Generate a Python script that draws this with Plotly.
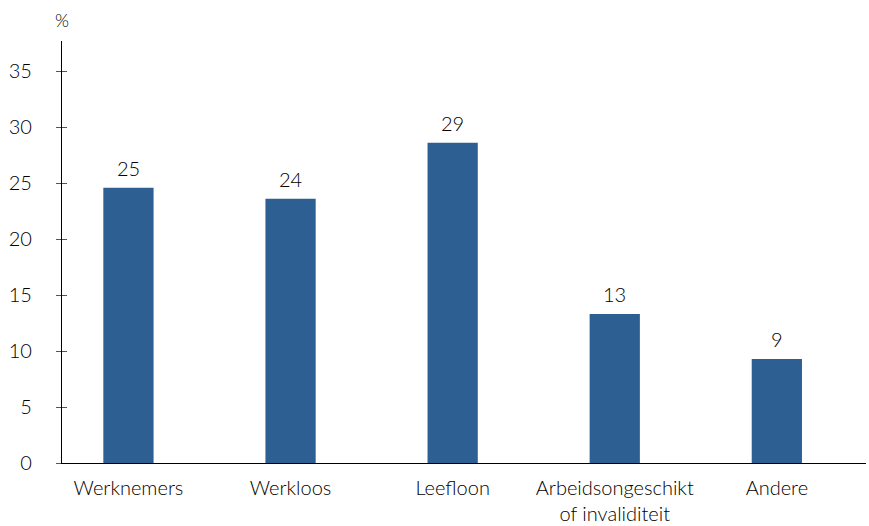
import plotly.graph_objects as go

# Share per category (%)
categories = ["Werknemers", "Werkloos", "Leefloon",
              "Arbeidsongeschikt<br>of invaliditeit", "Andere"]
values = [24.6, 23.6, 28.6, 13.3, 9.3]
tick_values = [0, 5, 10, 15, 20, 25, 30, 35]

labels = [f"{v:.0f}" for v in values]

FONT = "Lato"
SIZE = 20
WEIGHT = 300
BAR_COLOR = "#2E5F93"
TEXT = "#000000"


def font(size=SIZE):
    return dict(family=FONT, size=size, color=TEXT, weight=WEIGHT)


fig = go.Figure()
fig.add_trace(go.Bar(
    x=categories,
    y=values,
    marker=dict(color=BAR_COLOR, line=dict(width=0)),
    width=0.31,
    showlegend=False,
))
# invisible trace carrying the inward half of the crossing y ticks
fig.add_trace(go.Scatter(x=categories, y=values, yaxis="y2", mode="markers",
                         marker=dict(opacity=0), hoverinfo="skip", showlegend=False))

# value labels above each bar
annotations = [dict(
    x=c, y=v, text=t, xref="x", yref="y", showarrow=False,
    xanchor="center", yanchor="bottom", yshift=6, font=font(),
) for c, v, t in zip(categories, values, labels)]
annotations.append(dict(
    text="%", xref="paper", yref="paper", x=0, y=1,
    xanchor="center", yanchor="bottom", yshift=8, showarrow=False,
    font=font(18),
))

fig.update_layout(
    width=869, height=526,
    margin=dict(l=62, r=3, t=41, b=63),
    paper_bgcolor="white", plot_bgcolor="white",
    font=font(),
    xaxis=dict(
        range=[-0.41, 4.55], automargin=False,
        showline=True, linecolor=TEXT, linewidth=1.3,
        ticks="", showgrid=False,
        ticklabelstandoff=7,
        tickfont=font(),
    ),
    yaxis=dict(
        range=[0, 37.7], automargin=False,
        tickvals=tick_values,
        showline=True, linecolor=TEXT, linewidth=1.3,
        ticks="outside", ticklen=5, tickcolor="#555555", tickwidth=1,
        showgrid=False, zeroline=False,
        ticklabelstandoff=20,
        tickfont=font(),
    ),
    yaxis2=dict(
        range=[0, 37.7], overlaying="y", side="left", automargin=False,
        tickvals=tick_values, showticklabels=False,
        ticks="inside", ticklen=5, tickcolor="#555555", tickwidth=1,
        showgrid=False, zeroline=False, showline=False,
    ),
    annotations=annotations,
)

fig.write_html("out.html")
